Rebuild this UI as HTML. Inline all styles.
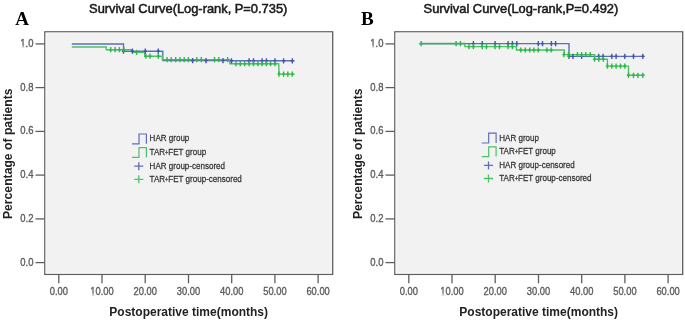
<!DOCTYPE html>
<html><head><meta charset="utf-8"><style>
html,body{margin:0;padding:0;background:#fff;}
body{width:685px;height:322px;overflow:hidden;}
svg{display:block;filter:blur(0.3px);}
text{font-family:"Liberation Sans",sans-serif;}
.tk{font-size:11px;fill:#5c5c5c;stroke:#5c5c5c;stroke-width:0.35px;}
.lg{font-size:9.4px;fill:#333;stroke:#333;stroke-width:0.25px;}
.ti{font-size:11.9px;fill:#1a1a1a;stroke:#1a1a1a;stroke-width:0.5px;}
.ax{font-size:12px;font-weight:bold;fill:#222;}
.let{font-family:"Liberation Serif",serif;font-size:19px;font-weight:bold;fill:#000;}
</style></head><body>
<svg width="685" height="322" viewBox="0 0 685 322">
<rect x="44.8" y="31.8" width="287.9" height="242.6" fill="#F2F2F2" stroke="#5E5E5E" stroke-width="1.3"/>
<rect x="46.1" y="33.1" width="285.3" height="240.0" fill="none" stroke="#FAFAFA" stroke-width="0.9"/>
<line x1="35.5" y1="262.6" x2="44.8" y2="262.6" stroke="#5E5E5E" stroke-width="1.3"/>
<g transform="translate(33.5,265.6) scale(0.91,1)"><text text-anchor="end" class="tk" style="font-size:10.4px">0.0</text></g>
<line x1="35.5" y1="218.9" x2="44.8" y2="218.9" stroke="#5E5E5E" stroke-width="1.3"/>
<g transform="translate(33.5,221.9) scale(0.91,1)"><text text-anchor="end" class="tk" style="font-size:10.4px">0.2</text></g>
<line x1="35.5" y1="175.1" x2="44.8" y2="175.1" stroke="#5E5E5E" stroke-width="1.3"/>
<g transform="translate(33.5,178.1) scale(0.91,1)"><text text-anchor="end" class="tk" style="font-size:10.4px">0.4</text></g>
<line x1="35.5" y1="131.4" x2="44.8" y2="131.4" stroke="#5E5E5E" stroke-width="1.3"/>
<g transform="translate(33.5,134.4) scale(0.91,1)"><text text-anchor="end" class="tk" style="font-size:10.4px">0.6</text></g>
<line x1="35.5" y1="87.6" x2="44.8" y2="87.6" stroke="#5E5E5E" stroke-width="1.3"/>
<g transform="translate(33.5,90.6) scale(0.91,1)"><text text-anchor="end" class="tk" style="font-size:10.4px">0.8</text></g>
<line x1="35.5" y1="43.9" x2="44.8" y2="43.9" stroke="#5E5E5E" stroke-width="1.3"/>
<g transform="translate(33.5,46.9) scale(0.91,1)"><text text-anchor="end" class="tk" style="font-size:10.4px">1.0</text><rect x="-15.08" y="-1.30" width="3.17" height="2.10" fill="#fff"/><rect x="-10.89" y="-1.30" width="2.26" height="2.10" fill="#fff"/></g>
<line x1="58.8" y1="274.4" x2="58.8" y2="283.3" stroke="#5E5E5E" stroke-width="1.3"/>
<g transform="translate(58.8,294.8) scale(0.85,1)"><text text-anchor="middle" class="tk">0.00</text></g>
<line x1="102.0" y1="274.4" x2="102.0" y2="283.3" stroke="#5E5E5E" stroke-width="1.3"/>
<g transform="translate(102.0,294.8) scale(0.85,1)"><text text-anchor="middle" class="tk">10.00</text><rect x="-14.42" y="-1.38" width="3.35" height="2.17" fill="#fff"/><rect x="-9.99" y="-1.38" width="2.39" height="2.17" fill="#fff"/></g>
<line x1="145.2" y1="274.4" x2="145.2" y2="283.3" stroke="#5E5E5E" stroke-width="1.3"/>
<g transform="translate(145.2,294.8) scale(0.85,1)"><text text-anchor="middle" class="tk">20.00</text></g>
<line x1="188.5" y1="274.4" x2="188.5" y2="283.3" stroke="#5E5E5E" stroke-width="1.3"/>
<g transform="translate(188.5,294.8) scale(0.85,1)"><text text-anchor="middle" class="tk">30.00</text></g>
<line x1="231.7" y1="274.4" x2="231.7" y2="283.3" stroke="#5E5E5E" stroke-width="1.3"/>
<g transform="translate(231.7,294.8) scale(0.85,1)"><text text-anchor="middle" class="tk">40.00</text></g>
<line x1="274.9" y1="274.4" x2="274.9" y2="283.3" stroke="#5E5E5E" stroke-width="1.3"/>
<g transform="translate(274.9,294.8) scale(0.85,1)"><text text-anchor="middle" class="tk">50.00</text></g>
<line x1="318.1" y1="274.4" x2="318.1" y2="283.3" stroke="#5E5E5E" stroke-width="1.3"/>
<g transform="translate(318.1,294.8) scale(0.85,1)"><text text-anchor="middle" class="tk">60.00</text></g>
<polyline points="71.8,44.0 123.5,44.0 123.5,51.2 162.8,51.2 162.8,60.6 230.0,60.6 230.0,60.8 294.6,60.8" fill="none" stroke="#5D6EBA" stroke-width="1.4"/>
<polyline points="71.8,47.0 106.2,47.0 106.2,49.7 132.2,49.7 132.2,52.4 144.8,52.4 144.8,56.2 162.3,56.2 162.3,59.6 229.8,59.6 229.8,63.7 278.7,63.7 279.1,74.1 294.8,74.1" fill="none" stroke="#4EC16A" stroke-width="1.4"/>

<path d="M121.9,51.2H125.1M123.5,48.6V53.8M130.8,51.2H134.0M132.4,48.6V53.8M143.7,51.2H146.9M145.3,48.6V53.8M156.7,51.2H159.9M158.3,48.6V53.8M191.0,60.6H194.2M192.6,58.0V63.2M204.4,60.6H207.6M206.0,58.0V63.2M221.4,60.6H224.6M223.0,58.0V63.2M229.9,60.8H233.1M231.5,58.2V63.4M247.5,60.8H250.7M249.1,58.2V63.4M251.9,60.8H255.1M253.5,58.2V63.4M260.5,60.8H263.7M262.1,58.2V63.4M264.8,60.8H268.0M266.4,58.2V63.4M273.4,60.8H276.6M275.0,58.2V63.4M282.0,60.8H285.2M283.6,58.2V63.4M290.7,60.8H293.9M292.3,58.2V63.4" stroke="#3E58AC" stroke-width="1.4" fill="none"/>
<path d="M109.1,49.7H112.3M110.7,47.1V52.3M113.5,49.7H116.7M115.1,47.1V52.3M117.8,49.7H121.0M119.4,47.1V52.3M122.2,49.7H125.4M123.8,47.1V52.3M135.0,52.4H138.2M136.6,49.8V55.0M144.2,56.2H147.4M145.8,53.6V58.8M148.4,56.2H151.6M150.0,53.6V58.8M156.7,56.2H159.9M158.3,53.6V58.8M165.5,59.6H168.7M167.1,57.0V62.2M169.6,59.6H172.8M171.2,57.0V62.2M174.1,59.6H177.3M175.7,57.0V62.2M178.3,59.6H181.5M179.9,57.0V62.2M182.6,59.6H185.8M184.2,57.0V62.2M186.8,59.6H190.0M188.4,57.0V62.2M195.2,59.6H198.4M196.8,57.0V62.2M199.7,59.6H202.9M201.3,57.0V62.2M212.9,59.6H216.1M214.5,57.0V62.2M217.2,59.6H220.4M218.8,57.0V62.2M226.0,59.6H229.2M227.6,57.0V62.2M234.4,63.7H237.6M236.0,61.1V66.3M238.7,63.7H241.9M240.3,61.1V66.3M243.1,63.7H246.3M244.7,61.1V66.3M247.5,63.7H250.7M249.1,61.1V66.3M251.9,63.7H255.1M253.5,61.1V66.3M256.3,63.7H259.5M257.9,61.1V66.3M260.5,63.7H263.7M262.1,61.1V66.3M264.8,63.7H268.0M266.4,61.1V66.3M269.0,63.7H272.2M270.6,61.1V66.3M273.4,63.7H276.6M275.0,61.1V66.3M277.4,74.1H280.6M279.0,71.5V76.7M282.0,74.1H285.2M283.6,71.5V76.7M286.2,74.1H289.4M287.8,71.5V76.7M290.7,74.1H293.9M292.3,71.5V76.7" stroke="#2EB848" stroke-width="1.4" fill="none"/>
<polyline points="132,143.8 139,143.8 139,134 146.4,134 146.4,143.8" fill="none" stroke="#5D6EBA" stroke-width="1.2"/>
<text transform="translate(149.6,141.4) scale(0.855,1)" class="lg">HAR group</text>
<polyline points="132,157.4 139,157.4 139,147.6 146.4,147.6 146.4,157.4" fill="none" stroke="#4EC16A" stroke-width="1.2"/>
<text transform="translate(149.6,155.0) scale(0.855,1)" class="lg">TAR<tspan style="font-size:6.6px" dy="-0.1">+</tspan><tspan dy="0.1">FET group</tspan></text>
<path d="M134.2,166.2H143.3M138.8,162.2V170.2" stroke="#5D6EBA" stroke-width="1.3"/>
<text transform="translate(149.6,168.6) scale(0.855,1)" class="lg">HAR group-censored</text>
<path d="M134.2,179.3H143.3M138.8,175.3V183.3" stroke="#4EC16A" stroke-width="1.3"/>
<text transform="translate(149.6,182.2) scale(0.855,1)" class="lg">TAR<tspan style="font-size:6.6px" dy="-0.1">+</tspan><tspan dy="0.1">FET group-censored</tspan></text>
<text transform="translate(188.2,13.2) scale(1.082,1)" text-anchor="middle" class="ti">Survival Curve(Log-rank, P=0.735)</text>
<text x="188.7" y="315.9" text-anchor="middle" class="ax">Postoperative time(months)</text>
<text transform="translate(12.0,153.7) rotate(-90)" text-anchor="middle" class="ax" style="font-size:12.2px">Percentage of patients</text>
<text x="15.3" y="24.8" class="let">A</text>
<rect x="394.8" y="31.8" width="287.9" height="242.6" fill="#F2F2F2" stroke="#5E5E5E" stroke-width="1.3"/>
<rect x="396.1" y="33.1" width="285.3" height="240.0" fill="none" stroke="#FAFAFA" stroke-width="0.9"/>
<line x1="385.5" y1="262.6" x2="394.8" y2="262.6" stroke="#5E5E5E" stroke-width="1.3"/>
<g transform="translate(383.5,265.6) scale(0.91,1)"><text text-anchor="end" class="tk" style="font-size:10.4px">0.0</text></g>
<line x1="385.5" y1="218.9" x2="394.8" y2="218.9" stroke="#5E5E5E" stroke-width="1.3"/>
<g transform="translate(383.5,221.9) scale(0.91,1)"><text text-anchor="end" class="tk" style="font-size:10.4px">0.2</text></g>
<line x1="385.5" y1="175.1" x2="394.8" y2="175.1" stroke="#5E5E5E" stroke-width="1.3"/>
<g transform="translate(383.5,178.1) scale(0.91,1)"><text text-anchor="end" class="tk" style="font-size:10.4px">0.4</text></g>
<line x1="385.5" y1="131.4" x2="394.8" y2="131.4" stroke="#5E5E5E" stroke-width="1.3"/>
<g transform="translate(383.5,134.4) scale(0.91,1)"><text text-anchor="end" class="tk" style="font-size:10.4px">0.6</text></g>
<line x1="385.5" y1="87.6" x2="394.8" y2="87.6" stroke="#5E5E5E" stroke-width="1.3"/>
<g transform="translate(383.5,90.6) scale(0.91,1)"><text text-anchor="end" class="tk" style="font-size:10.4px">0.8</text></g>
<line x1="385.5" y1="43.9" x2="394.8" y2="43.9" stroke="#5E5E5E" stroke-width="1.3"/>
<g transform="translate(383.5,46.9) scale(0.91,1)"><text text-anchor="end" class="tk" style="font-size:10.4px">1.0</text><rect x="-15.08" y="-1.30" width="3.17" height="2.10" fill="#fff"/><rect x="-10.89" y="-1.30" width="2.26" height="2.10" fill="#fff"/></g>
<line x1="408.8" y1="274.4" x2="408.8" y2="283.3" stroke="#5E5E5E" stroke-width="1.3"/>
<g transform="translate(408.8,294.8) scale(0.85,1)"><text text-anchor="middle" class="tk">0.00</text></g>
<line x1="452.0" y1="274.4" x2="452.0" y2="283.3" stroke="#5E5E5E" stroke-width="1.3"/>
<g transform="translate(452.0,294.8) scale(0.85,1)"><text text-anchor="middle" class="tk">10.00</text><rect x="-14.42" y="-1.38" width="3.35" height="2.17" fill="#fff"/><rect x="-9.99" y="-1.38" width="2.39" height="2.17" fill="#fff"/></g>
<line x1="495.2" y1="274.4" x2="495.2" y2="283.3" stroke="#5E5E5E" stroke-width="1.3"/>
<g transform="translate(495.2,294.8) scale(0.85,1)"><text text-anchor="middle" class="tk">20.00</text></g>
<line x1="538.5" y1="274.4" x2="538.5" y2="283.3" stroke="#5E5E5E" stroke-width="1.3"/>
<g transform="translate(538.5,294.8) scale(0.85,1)"><text text-anchor="middle" class="tk">30.00</text></g>
<line x1="581.7" y1="274.4" x2="581.7" y2="283.3" stroke="#5E5E5E" stroke-width="1.3"/>
<g transform="translate(581.7,294.8) scale(0.85,1)"><text text-anchor="middle" class="tk">40.00</text></g>
<line x1="624.9" y1="274.4" x2="624.9" y2="283.3" stroke="#5E5E5E" stroke-width="1.3"/>
<g transform="translate(624.9,294.8) scale(0.85,1)"><text text-anchor="middle" class="tk">50.00</text></g>
<line x1="668.1" y1="274.4" x2="668.1" y2="283.3" stroke="#5E5E5E" stroke-width="1.3"/>
<g transform="translate(668.1,294.8) scale(0.85,1)"><text text-anchor="middle" class="tk">60.00</text></g>
<polyline points="419.5,43.6 569.0,43.6 569.0,56.4 644.7,56.4" fill="none" stroke="#5D6EBA" stroke-width="1.4"/>
<polyline points="464.8,43.7 464.8,46.6 516.4,46.6 516.4,50.0 564.3,50.0 564.3,54.6 594.6,54.6 594.6,59.2 607.4,59.2 607.4,66.1 628.5,66.1 628.5,75.3 644.7,75.3" fill="none" stroke="#4EC16A" stroke-width="1.4"/>
<line x1="419.5" y1="43.65" x2="465.6" y2="43.65" stroke="#4FA872" stroke-width="1.7"/>
<path d="M471.8,43.6H475.0M473.4,41.0V46.2M480.6,43.6H483.8M482.2,41.0V46.2M493.5,43.6H496.7M495.1,41.0V46.2M506.5,43.6H509.7M508.1,41.0V46.2M510.8,43.6H514.0M512.4,41.0V46.2M515.2,43.6H518.4M516.8,41.0V46.2M536.7,43.6H539.9M538.3,41.0V46.2M540.9,43.6H544.1M542.5,41.0V46.2M549.8,43.6H553.0M551.4,41.0V46.2M554.0,43.6H557.2M555.6,41.0V46.2M567.4,56.4H570.6M569.0,53.8V59.0M571.3,56.4H574.5M572.9,53.8V59.0M580.0,56.4H583.2M581.6,53.8V59.0M597.1,56.4H600.3M598.7,53.8V59.0M601.5,56.4H604.7M603.1,53.8V59.0M610.2,56.4H613.4M611.8,53.8V59.0M614.5,56.4H617.7M616.1,53.8V59.0M623.2,56.4H626.4M624.8,53.8V59.0M631.9,56.4H635.1M633.5,53.8V59.0M641.2,56.4H644.4M642.8,53.8V59.0" stroke="#3E58AC" stroke-width="1.4" fill="none"/>
<path d="M419.6,43.6H422.8M421.2,41.0V46.2M454.5,43.6H457.7M456.1,41.0V46.2M458.8,43.6H462.0M460.4,41.0V46.2M467.4,46.6H470.6M469.0,44.0V49.2M471.8,46.6H475.0M473.4,44.0V49.2M480.6,46.6H483.8M482.2,44.0V49.2M484.9,46.6H488.1M486.5,44.0V49.2M493.5,46.6H496.7M495.1,44.0V49.2M497.9,46.6H501.1M499.5,44.0V49.2M506.5,46.6H509.7M508.1,44.0V49.2M510.8,46.6H514.0M512.4,44.0V49.2M519.2,50.0H522.4M520.8,47.4V52.6M523.7,50.0H526.9M525.3,47.4V52.6M528.1,50.0H531.3M529.7,47.4V52.6M532.3,50.0H535.5M533.9,47.4V52.6M536.7,50.0H539.9M538.3,47.4V52.6M545.3,50.0H548.5M546.9,47.4V52.6M549.6,50.0H552.8M551.2,47.4V52.6M562.3,54.6H565.5M563.9,52.0V57.2M566.9,54.6H570.1M568.5,52.0V57.2M575.8,54.6H579.0M577.4,52.0V57.2M580.0,54.6H583.2M581.6,52.0V57.2M584.2,54.6H587.4M585.8,52.0V57.2M588.6,54.6H591.8M590.2,52.0V57.2M593.0,59.2H596.2M594.6,56.6V61.8M597.2,59.2H600.4M598.8,56.6V61.8M601.7,59.2H604.9M603.3,56.6V61.8M605.8,66.1H609.0M607.4,63.5V68.7M610.2,66.1H613.4M611.8,63.5V68.7M614.5,66.1H617.7M616.1,63.5V68.7M618.9,66.1H622.1M620.5,63.5V68.7M623.2,66.1H626.4M624.8,63.5V68.7M626.9,75.3H630.1M628.5,72.7V77.9M631.9,75.3H635.1M633.5,72.7V77.9M636.3,75.3H639.5M637.9,72.7V77.9M641.2,75.3H644.4M642.8,72.7V77.9" stroke="#2EB848" stroke-width="1.4" fill="none"/>
<polyline points="481.7,143.0 488.7,143.0 488.7,133.2 496.09999999999997,133.2 496.09999999999997,143.0" fill="none" stroke="#5D6EBA" stroke-width="1.2"/>
<text transform="translate(499.3,140.6) scale(0.855,1)" class="lg">HAR group</text>
<polyline points="481.7,156.6 488.7,156.6 488.7,146.79999999999998 496.09999999999997,146.79999999999998 496.09999999999997,156.6" fill="none" stroke="#4EC16A" stroke-width="1.2"/>
<text transform="translate(499.3,154.2) scale(0.855,1)" class="lg">TAR<tspan style="font-size:6.6px" dy="-0.1">+</tspan><tspan dy="0.1">FET group</tspan></text>
<path d="M483.9,165.39999999999998H493.0M488.5,161.39999999999998V169.39999999999998" stroke="#5D6EBA" stroke-width="1.3"/>
<text transform="translate(499.3,167.8) scale(0.855,1)" class="lg">HAR group-censored</text>
<path d="M483.9,178.5H493.0M488.5,174.5V182.5" stroke="#4EC16A" stroke-width="1.3"/>
<text transform="translate(499.3,181.4) scale(0.855,1)" class="lg">TAR<tspan style="font-size:6.6px" dy="-0.1">+</tspan><tspan dy="0.1">FET group-censored</tspan></text>
<text transform="translate(520.9,13.2) scale(1.082,1)" text-anchor="middle" class="ti">Survival Curve(Log-rank,P=0.492)</text>
<text x="538.7" y="315.9" text-anchor="middle" class="ax">Postoperative time(months)</text>
<text transform="translate(362.0,153.7) rotate(-90)" text-anchor="middle" class="ax" style="font-size:12.2px">Percentage of patients</text>
<text x="360.9" y="25.1" class="let">B</text>
</svg>
</body></html>
